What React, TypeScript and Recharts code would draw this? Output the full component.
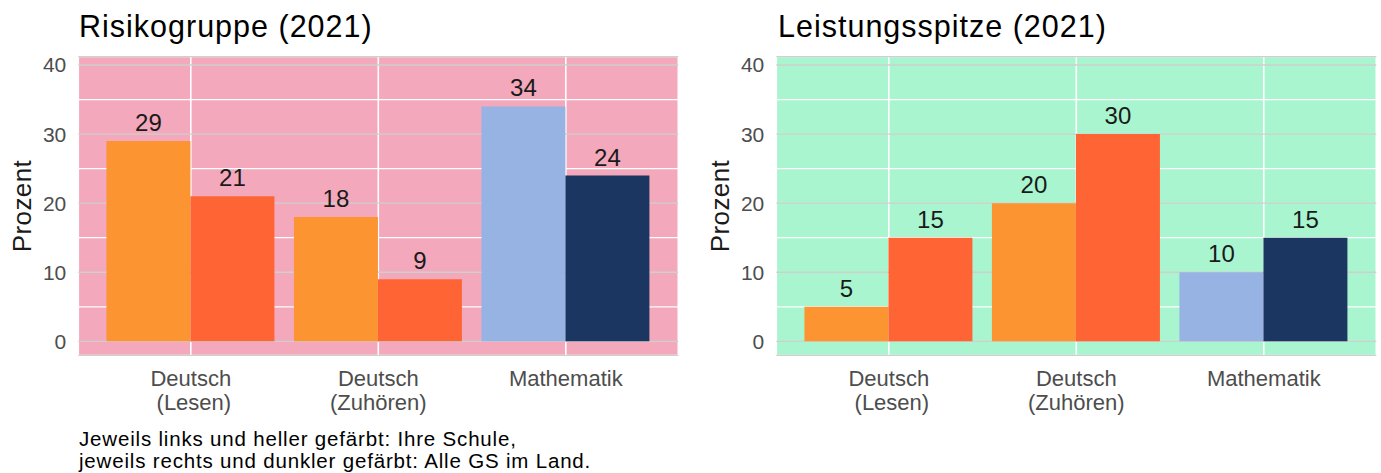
import React from "react";
import {
  BarChart,
  Bar,
  XAxis,
  YAxis,
  CartesianGrid,
  Cell,
  LabelList,
} from "recharts";

const categories = ["Deutsch (Lesen)", "Deutsch (Zuhören)", "Mathematik"];
const tickLines = [["Deutsch", " (Lesen)"], ["Deutsch", "(Zuhören)"], ["Mathematik"]];
const risikoSchule = [29, 18, 34];
const risikoLand = [21, 9, 24];
const spitzeSchule = [5, 20, 10];
const spitzeLand = [15, 30, 15];
const schuleColors = ["#FD9432", "#FD9432", "#96B3E3"];
const landColors = ["#FF6434", "#FF6434", "#1B3761"];
const majorTicks = [0, 10, 20, 30, 40];
const minorTicks = [5, 15, 25, 35];
const positionTicks = [1, 2, 3];

const FONT = "'Liberation Sans', Arial, sans-serif";

function buildData(schule: number[], land: number[]) {
  return categories.map((c, i) => ({
    cat: c,
    pos: i + 1,
    schule: schule[i],
    land: land[i],
  }));
}

const XTick = (props: any) => {
  const { x, y, payload } = props;
  const idx = categories.indexOf(payload.value);
  const lines = idx >= 0 ? tickLines[idx] : [String(payload.value)];
  return (
    <text
      x={x}
      y={y}
      textAnchor="middle"
      fill="#4D4D4D"
      fontSize={22}
      fontFamily={FONT}
      style={{ whiteSpace: "pre" }}
    >
      {lines.map((l, i) => (
        <tspan key={i} x={x} dy={i === 0 ? 23 : 23.3} xmlSpace="preserve">
          {l}
        </tspan>
      ))}
    </text>
  );
};

function Panel({
  schule,
  land,
  bg,
}: {
  schule: number[];
  land: number[];
  bg: string;
}) {
  const data = buildData(schule, land);
  const domain: [number, number] = [-2.02, 41.2];
  return (
    <BarChart
      width={682}
      height={473}
      data={data}
      margin={{ top: 56.7, right: 3.7, bottom: 57.7, left: 0 }}
      barCategoryGap="5%"
      barGap={0}
      style={{ fontFamily: FONT }}
    >
      <CartesianGrid
        yAxisId="minor"
        fill={bg}
        fillOpacity={1}
        vertical={false}
        stroke="#FFFFFF"
        strokeWidth={1.2}
      />
      <CartesianGrid
        xAxisId="pos"
        horizontal={false}
        stroke="#FFFFFF"
        strokeWidth={1.6}
      />
      <CartesianGrid vertical={false} stroke="#CFCFCF" strokeWidth={1.3} />
      <XAxis
        dataKey="cat"
        type="category"
        padding={{ left: 18.75, right: 18.75 }}
        height={60}
        axisLine={false}
        tickLine={false}
        interval={0}
        tick={<XTick />}
      />
      <XAxis
        xAxisId="pos"
        dataKey="pos"
        type="number"
        domain={[0.4, 3.6]}
        ticks={positionTicks}
        allowDataOverflow
        hide
      />
      <YAxis
        type="number"
        domain={domain}
        ticks={majorTicks}
        allowDataOverflow
        width={78.3}
        axisLine={false}
        tickLine={false}
        tickMargin={6}
        tick={{ fontSize: 21, fill: "#4D4D4D", fontFamily: FONT }}
      />
      <YAxis
        yAxisId="minor"
        type="number"
        domain={domain}
        ticks={minorTicks}
        allowDataOverflow
        hide
      />
      <Bar dataKey="schule" isAnimationActive={false}>
        {data.map((d, i) => (
          <Cell key={i} fill={schuleColors[i]} />
        ))}
        <LabelList
          dataKey="schule"
          position="top"
          offset={10}
          fontSize={24}
          fill="#1A1A1A"
          fontFamily={FONT}
        />
      </Bar>
      <Bar dataKey="land" isAnimationActive={false}>
        {data.map((d, i) => (
          <Cell key={i} fill={landColors[i]} />
        ))}
        <LabelList
          dataKey="land"
          position="top"
          offset={10}
          fontSize={24}
          fill="#1A1A1A"
          fontFamily={FONT}
        />
      </Bar>
    </BarChart>
  );
}

export default function App() {
  return (
    <div
      style={{
        position: "absolute",
        left: 0,
        top: 0,
        width: 1381,
        height: 473,
        background: "#FFFFFF",
        fontFamily: FONT,
        overflow: "hidden",
      }}
    >
      <div style={{ position: "absolute", left: 0, top: 0 }}>
        <Panel schule={risikoSchule} land={risikoLand} bg="#F3A8BC" />
      </div>
      <div style={{ position: "absolute", left: 698.4, top: 0 }}>
        <Panel schule={spitzeSchule} land={spitzeLand} bg="#A8F5D0" />
      </div>
      <svg
        width={1381}
        height={473}
        style={{ position: "absolute", left: 0, top: 0, pointerEvents: "none" }}
      >
        <text x={79} y={37} fontSize={30.5} letterSpacing={1} fill="#000" fontFamily={FONT}>
          Risikogruppe (2021)
        </text>
        <text x={778} y={37} fontSize={30.5} letterSpacing={1} fill="#000" fontFamily={FONT}>
          Leistungsspitze (2021)
        </text>
        <text
          transform="translate(31,206) rotate(-90)"
          textAnchor="middle"
          fontSize={26}
          letterSpacing={0.4}
          fill="#1A1A1A"
          fontFamily={FONT}
        >
          Prozent
        </text>
        <text
          transform="translate(729.4,206) rotate(-90)"
          textAnchor="middle"
          fontSize={26}
          letterSpacing={0.4}
          fill="#1A1A1A"
          fontFamily={FONT}
        >
          Prozent
        </text>
        <text x={79} y={446} fontSize={20.5} letterSpacing={0.82} fill="#000" fontFamily={FONT}>
          Jeweils links und heller gefärbt: Ihre Schule,
        </text>
        <text x={79} y={468} fontSize={20.5} letterSpacing={0.82} fill="#000" fontFamily={FONT}>
          jeweils rechts und dunkler gefärbt: Alle GS im Land.
        </text>
      </svg>
    </div>
  );
}
